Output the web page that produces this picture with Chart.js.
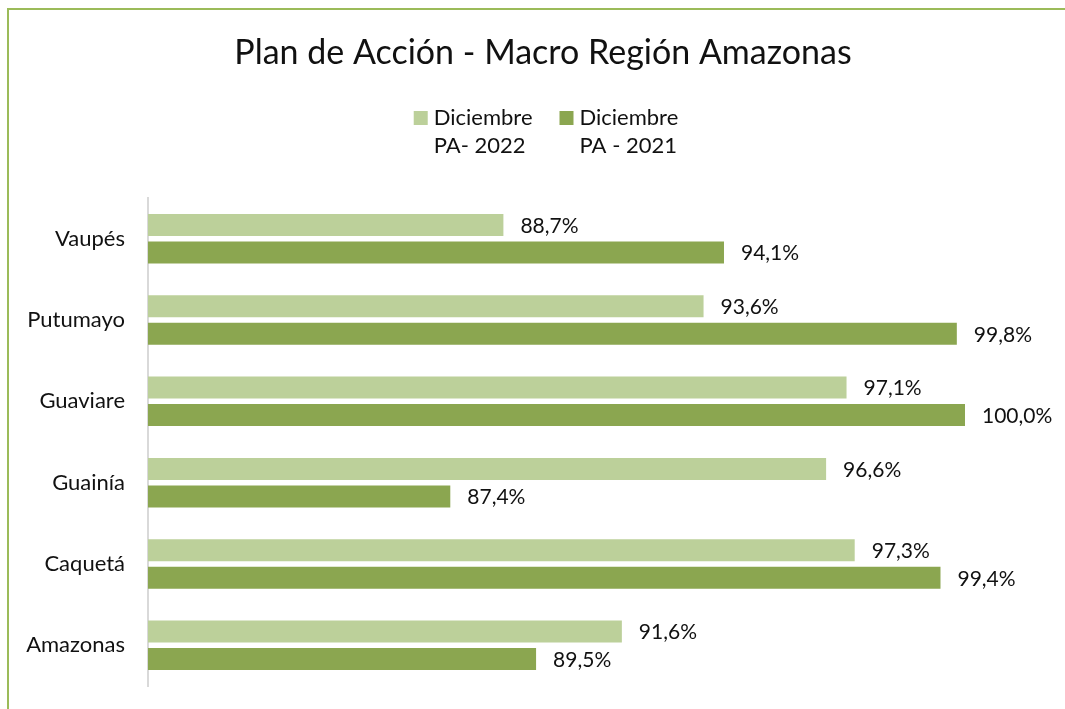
<!DOCTYPE html>
<html lang="es">
<head>
    <meta charset="UTF-8" />
    <title>Plan de Acción - Macro Región Amazonas</title>
    <script src="https://cdn.jsdelivr.net/npm/chart.js"></script>
    <style>
        html, body { margin: 0; padding: 0; background: #fff; overflow: hidden; }
        #frame {
            position: absolute; left: 7px; top: 8px; width: 1100px; height: 750px;
            border-top: 2px solid #9bbb59; border-left: 2px solid #9bbb59;
        }
        #wrap { position: absolute; left: 0; top: 0; width: 1065px; height: 709px; }
    </style>
</head>
<body>
    <div id="frame"></div>
    <div id="wrap"><canvas id="chart"></canvas></div>

    <script>
        const chartTitle = "Plan de Acción - Macro Región Amazonas";
        const categories = ["Vaupés", "Putumayo", "Guaviare", "Guainía", "Caquetá", "Amazonas"];
        const seriesLabels = [["Diciembre", "PA- 2022"], ["Diciembre", "PA - 2021"]];
        const pa2022 = [88.7, 93.6, 97.1, 96.6, 97.3, 91.6];
        const pa2021 = [94.1, 99.8, 100.0, 87.4, 99.4, 89.5];
        const colors = ["#bcd09a", "#8ba650"];

        const FONT = "Lato";
        const TEXT = "#111";

        // title + two-line legend, centred a bit right of the canvas like the original frame
        const header = {
            id: "header",
            afterDraw(chart) {
                const c = chart.ctx;
                const cx = 543;
                c.save();
                c.fillStyle = TEXT;
                c.textBaseline = "alphabetic";
                c.textAlign = "center";
                c.font = `34px ${FONT}`;
                c.fillText(chartTitle, cx, 64);

                c.font = `22px ${FONT}`;
                c.textAlign = "left";
                const box = 14, gapBox = 6, gapItem = 27;
                const widths = seriesLabels.map(l => Math.max(...l.map(t => c.measureText(t).width)));
                const total = widths.reduce((a, w) => a + box + gapBox + w, 0) + gapItem * (widths.length - 1);
                let x = cx + 3 - total / 2;
                seriesLabels.forEach((lines, i) => {
                    c.fillStyle = colors[i];
                    c.fillRect(x, 111, box, box);
                    c.fillStyle = TEXT;
                    lines.forEach((t, k) => c.fillText(t, x + box + gapBox, 125 + k * 28));
                    x += box + gapBox + widths[i] + gapItem;
                });
                c.restore();
            }
        };

        // value labels right of each bar, decimal comma like the original
        const valueLabels = {
            id: "valueLabels",
            afterDatasetsDraw(chart) {
                const c = chart.ctx;
                c.save();
                c.font = `21px ${FONT}`;
                c.fillStyle = TEXT;
                c.textAlign = "left";
                c.textBaseline = "middle";
                chart.data.datasets.forEach((ds, i) => {
                    chart.getDatasetMeta(i).data.forEach((bar, j) => {
                        const txt = ds.data[j].toFixed(1).replace(".", ",") + "%";
                        c.fillText(txt, bar.x + 17, bar.y + 1);
                    });
                });
                c.restore();
            }
        };

        new Chart(document.getElementById("chart"), {
            type: "bar",
            data: {
                labels: categories,
                datasets: [
                    { label: seriesLabels[0].join(" "), data: pa2022, backgroundColor: colors[0] },
                    { label: seriesLabels[1].join(" "), data: pa2021, backgroundColor: colors[1] }
                ]
            },
            options: {
                indexAxis: "y",
                responsive: true,
                maintainAspectRatio: false,
                animation: false,
                categoryPercentage: 0.676,
                barPercentage: 0.8,
                layout: { padding: { left: 0, right: 100, top: 198, bottom: 23 } },
                plugins: {
                    title: { display: false },
                    legend: { display: false },
                    tooltip: { enabled: false }
                },
                scales: {
                    x: { display: false, min: 80, max: 100 },
                    y: {
                        grid: { display: false, drawTicks: false },
                        border: { display: true, color: "#d9d9d9", width: 2 },
                        ticks: { color: TEXT, font: { family: FONT, size: 22 }, padding: 23 },
                        afterFit(scale) {
                            scale.width = 148;
                            scale.paddingTop = 0;
                            scale.paddingBottom = 0;
                        }
                    }
                }
            },
            plugins: [valueLabels, header]
        });
    </script>
</body>
</html>
